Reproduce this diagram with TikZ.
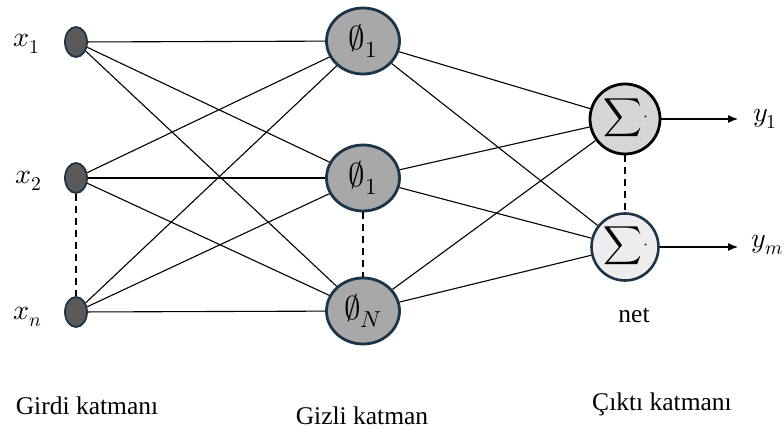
\documentclass[tikz,border=0pt]{standalone}
\usepackage{fontspec}
\usepackage{unicode-math}
\setmainfont{Liberation Serif}
\setmathfont{Latin Modern Math}
\usetikzlibrary{arrows.meta,shapes.geometric}
\definecolor{navy}{HTML}{1C3447}
\definecolor{inpfill}{HTML}{5A5A5A}
\definecolor{hidfill}{HTML}{A8A8A8}
\definecolor{out1fill}{HTML}{D6D6D6}
\definecolor{out2fill}{HTML}{EDEDED}
\newcommand{\sigdot}{$\displaystyle\sum$\kern1pt\raisebox{3pt}{\fontsize{18}{18}\selectfont$\cdot$}}
\tikzset{
  inp/.style={ellipse, draw=navy, line width=1.8pt, fill=inpfill, minimum width=22pt, minimum height=30pt, inner sep=0pt},
  hid/.style={ellipse, draw=navy, line width=2.8pt, fill=hidfill, minimum width=73pt, minimum height=66pt, inner sep=0pt, font=\fontsize{33}{35}\selectfont},
  outa/.style={circle, draw=black, line width=2.8pt, fill=out1fill, minimum size=70pt, inner sep=0pt},
  outb/.style={circle, draw=navy, line width=2.6pt, fill=out2fill, minimum size=67pt, inner sep=0pt},
  sig/.style={font=\fontsize{27}{29}\selectfont, inner sep=0pt},
  conn/.style={line width=1.1pt},
  dashln/.style={line width=1.8pt, dash pattern=on 7pt off 5pt},
  lbl/.style={font=\fontsize{28}{30}\selectfont},
  captxt/.style={font=\fontsize{25.5}{28}\selectfont}
}
\begin{document}
\begin{tikzpicture}[x=1pt,y=-1pt]
\useasboundingbox (0,0) rectangle (784,430);
\node[inp] (i1) at (76,42) {};
\node[inp] (i2) at (76,178) {};
\node[inp] (i3) at (76,312) {};
\node[hid] (h1) at (363,41) {$\emptyset_1$};
\node[hid] (h2) at (363,178) {$\emptyset_1$};
\node[hid] (h3) at (363,311) {$\emptyset_N$};
\node[outa] (o1) at (625,119) {};
\node[outb] (o2) at (625,247) {};
\node[sig] (s1) at (626,118) {\sigdot};
\node[sig] (s2) at (626,246) {\sigdot};
\foreach \i in {1,2,3}{\foreach \h in {1,2,3}{\draw[conn] (i\i) -- (h\h);}}
\foreach \h in {1,2,3}{\foreach \o in {1,2}{\draw[conn] (h\h) -- (o\o);}}
\draw[dashln] (i2) -- (i3);
\draw[dashln] (h2) -- (h3);
\draw[dashln] (o1) -- (o2);
\coordinate (e1) at (738,119);
\coordinate (e2) at (738,247);
\draw[conn,-{Latex[length=10pt,width=8pt]}] (o1) -- (e1);
\draw[conn,-{Latex[length=10pt,width=8pt]}] (o2) -- (e2);
\node[lbl] (lx1) at (27,44) {$x_1$};
\node[lbl] (lx2) at (29,181) {$x_2$};
\node[lbl] (lxn) at (28,317) {$x_n$};
\node[lbl] (ly1) at (765,119) {$y_1$};
\node[lbl] (lym) at (767,245) {$y_m$};
\node[captxt] (net) at (634,315) {net};
\node[captxt] (c1) at (87,406) {Girdi katmanı};
\node[captxt] (c2) at (362,416) {Gizli katman};
\node[captxt] (c3) at (662,404) {Çıktı katmanı};
\end{tikzpicture}
\end{document}
